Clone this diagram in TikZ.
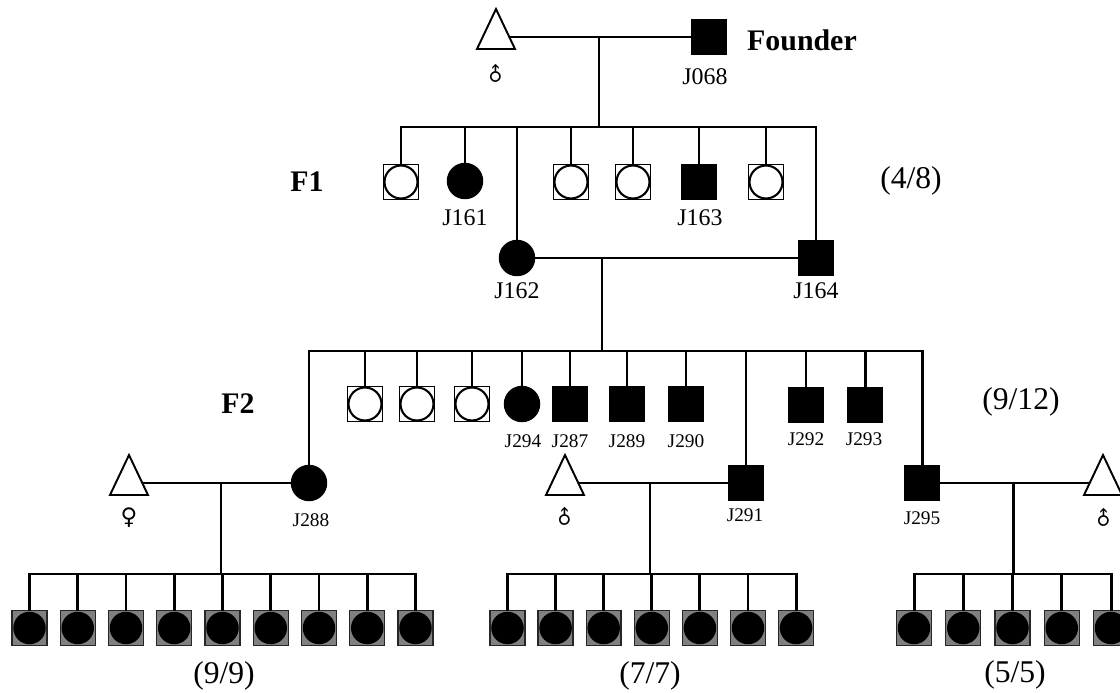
\documentclass[tikz,border=0pt]{standalone}
\usepackage{fontspec}
\setmainfont{Liberation Serif}
\newfontfamily\symfont{DejaVu Sans}
\usetikzlibrary{shapes.geometric}

\begin{document}
\begin{tikzpicture}[x=0.02cm,y=-0.02cm,line width=1.7pt,
  every node/.style={inner sep=0pt,outer sep=0pt},
  affsq/.style={rectangle,draw,line width=0.8pt,fill=black,minimum size=0.7cm},
  affci/.style={circle,fill=black,minimum size=0.73cm},
  unaff/.style={rectangle,draw,line width=0.8pt,fill=white,minimum size=0.7cm,
    path picture={\draw[line width=1.2pt] (path picture bounding box.center) circle (0.33cm);}},
  offsp/.style={rectangle,draw=black!85,line width=0.8pt,fill=black!50,minimum size=0.7cm,
    path picture={\fill[black] (path picture bounding box.center) circle (0.325cm);}},
  tri/.style={isosceles triangle,isosceles triangle apex angle=52,isosceles triangle stretches,
    shape border rotate=90,draw,line width=1.1pt,fill=white,minimum width=0.76cm,minimum height=0.8cm},
  idbig/.style={font=\fontsize{13.6}{15}\selectfont},
  idsml/.style={font=\fontsize{11}{13}\selectfont},
  gen/.style={font=\fontsize{17}{20}\selectfont\bfseries},
  ratio/.style={font=\fontsize{18}{21}\selectfont},
  malesym/.style={font=\symfont\fontsize{11}{12}\selectfont,rotate=45},
  femsym/.style={font=\symfont\fontsize{13}{14}\selectfont}]

  \useasboundingbox (0,0) rectangle (1120,693);
  \clip (0,0) rectangle (1120,693);

  % Founders
  \node[tri] (p0) at (496,37) {};
  \node[malesym] (s0) at (496,75) {♂};
  \node[affsq] (j068) at (709,37) {};
  \node[idbig] (l068) at (705,77) {J068};
  \node[gen] (fnd) at (802,40) {Founder};
  \coordinate (m0) at (599,37);
  \coordinate (b1) at (599,127);
  \draw (p0) -- (j068);
  \draw (m0) -- (b1);

  % F1
  \node[gen] (g1) at (307,182) {F1};
  \node[unaff] (f1a) at (401,182) {};
  \node[affci] (j161) at (465,181) {};
  \node[unaff] (f1b) at (571,182) {};
  \node[unaff] (f1c) at (633,182) {};
  \node[affsq] (j163) at (699,182) {};
  \node[unaff] (f1d) at (766,182) {};
  \node[affci] (j162) at (517,258) {};
  \node[affsq] (j164) at (816,258) {};
  \foreach \n in {f1a,j161,j162,f1b,f1c,j163,f1d,j164}
    \draw (\n.north) |- (b1);
  \node[idbig] (l161) at (465,218) {J161};
  \node[idbig] (l163) at (700,218) {J163};
  \node[idbig] (l162) at (517,291) {J162};
  \node[idbig] (l164) at (816,291) {J164};
  \node[ratio] (r1) at (911,181) {(4/8)};
  \coordinate (m1) at (602,258);
  \coordinate (b2) at (602,351);
  \draw (j162) -- (j164);
  \draw (m1) -- (b2);

  % F2
  \node[gen] (g2) at (238,404) {F2};
  \node[affci] (j288) at (309,483) {};
  \foreach \x [count=\i] in {365,417,472}
    \node[unaff] (f2\i) at (\x,404) {};
  \node[affci] (j294) at (522,404) {};
  \node[affsq] (j287) at (570,404) {};
  \node[affsq] (j289) at (627,404) {};
  \node[affsq] (j290) at (686,404) {};
  \node[affsq] (j291) at (746,483) {};
  \node[affsq] (j292) at (806,405) {};
  \node[affsq] (j293) at (865,405) {};
  \node[affsq] (j295) at (922,483) {};
  \foreach \n in {j288,f21,f22,f23,j294,j287,j289,j290,j291,j292,j293,j295}
    \draw (\n.north) |- (b2);
  \foreach \n/\x/\y in {294/523/441,287/570/441,289/627/441,290/686/441,
      292/806/439,293/864/439,288/311/520,291/745/515,295/922/518}
    \node[idsml] (l\n) at (\x,\y) {J\n};
  \node[ratio] (r2) at (1021,402) {(9/12)};

  % F3, left family
  \node[tri] (pa) at (129,483) {};
  \node[femsym] (sa) at (129,518) {♀};
  \coordinate (ma) at (221,483);
  \coordinate (ba) at (221,574);
  \draw (pa) -- (j288);
  \draw (ma) -- (ba);
  \foreach \i in {0,...,8} {
    \node[offsp] (a\i) at (29.5+48.25*\i,628) {};
    \draw (a\i.north) |- (ba);
  }
  \node[ratio] (ra) at (224,676) {(9/9)};

  % F3, middle family
  \node[tri] (pb) at (565,483) {};
  \node[malesym] (sb) at (565,518) {♂};
  \coordinate (mb) at (650,483);
  \coordinate (bb) at (650,574);
  \draw (pb) -- (j291);
  \draw (mb) -- (bb);
  \foreach \i in {0,...,6} {
    \node[offsp] (b\i) at (507.5+48.1*\i,628) {};
    \draw (b\i.north) |- (bb);
  }
  \node[ratio] (rb) at (650,676) {(7/7)};

  % F3, right family
  \node[tri] (pc) at (1103,483) {};
  \node[malesym] (sc) at (1104,519) {♂};
  \coordinate (mc) at (1013,483);
  \coordinate (bc) at (1013,574);
  \draw (j295) -- (pc);
  \draw (mc) -- (bc);
  \foreach \i in {0,...,4} {
    \node[offsp] (c\i) at (914+49.25*\i,628) {};
    \draw (c\i.north) |- (bc);
  }
  \node[ratio] (rc) at (1015,675) {(5/5)};
\end{tikzpicture}
\end{document}
